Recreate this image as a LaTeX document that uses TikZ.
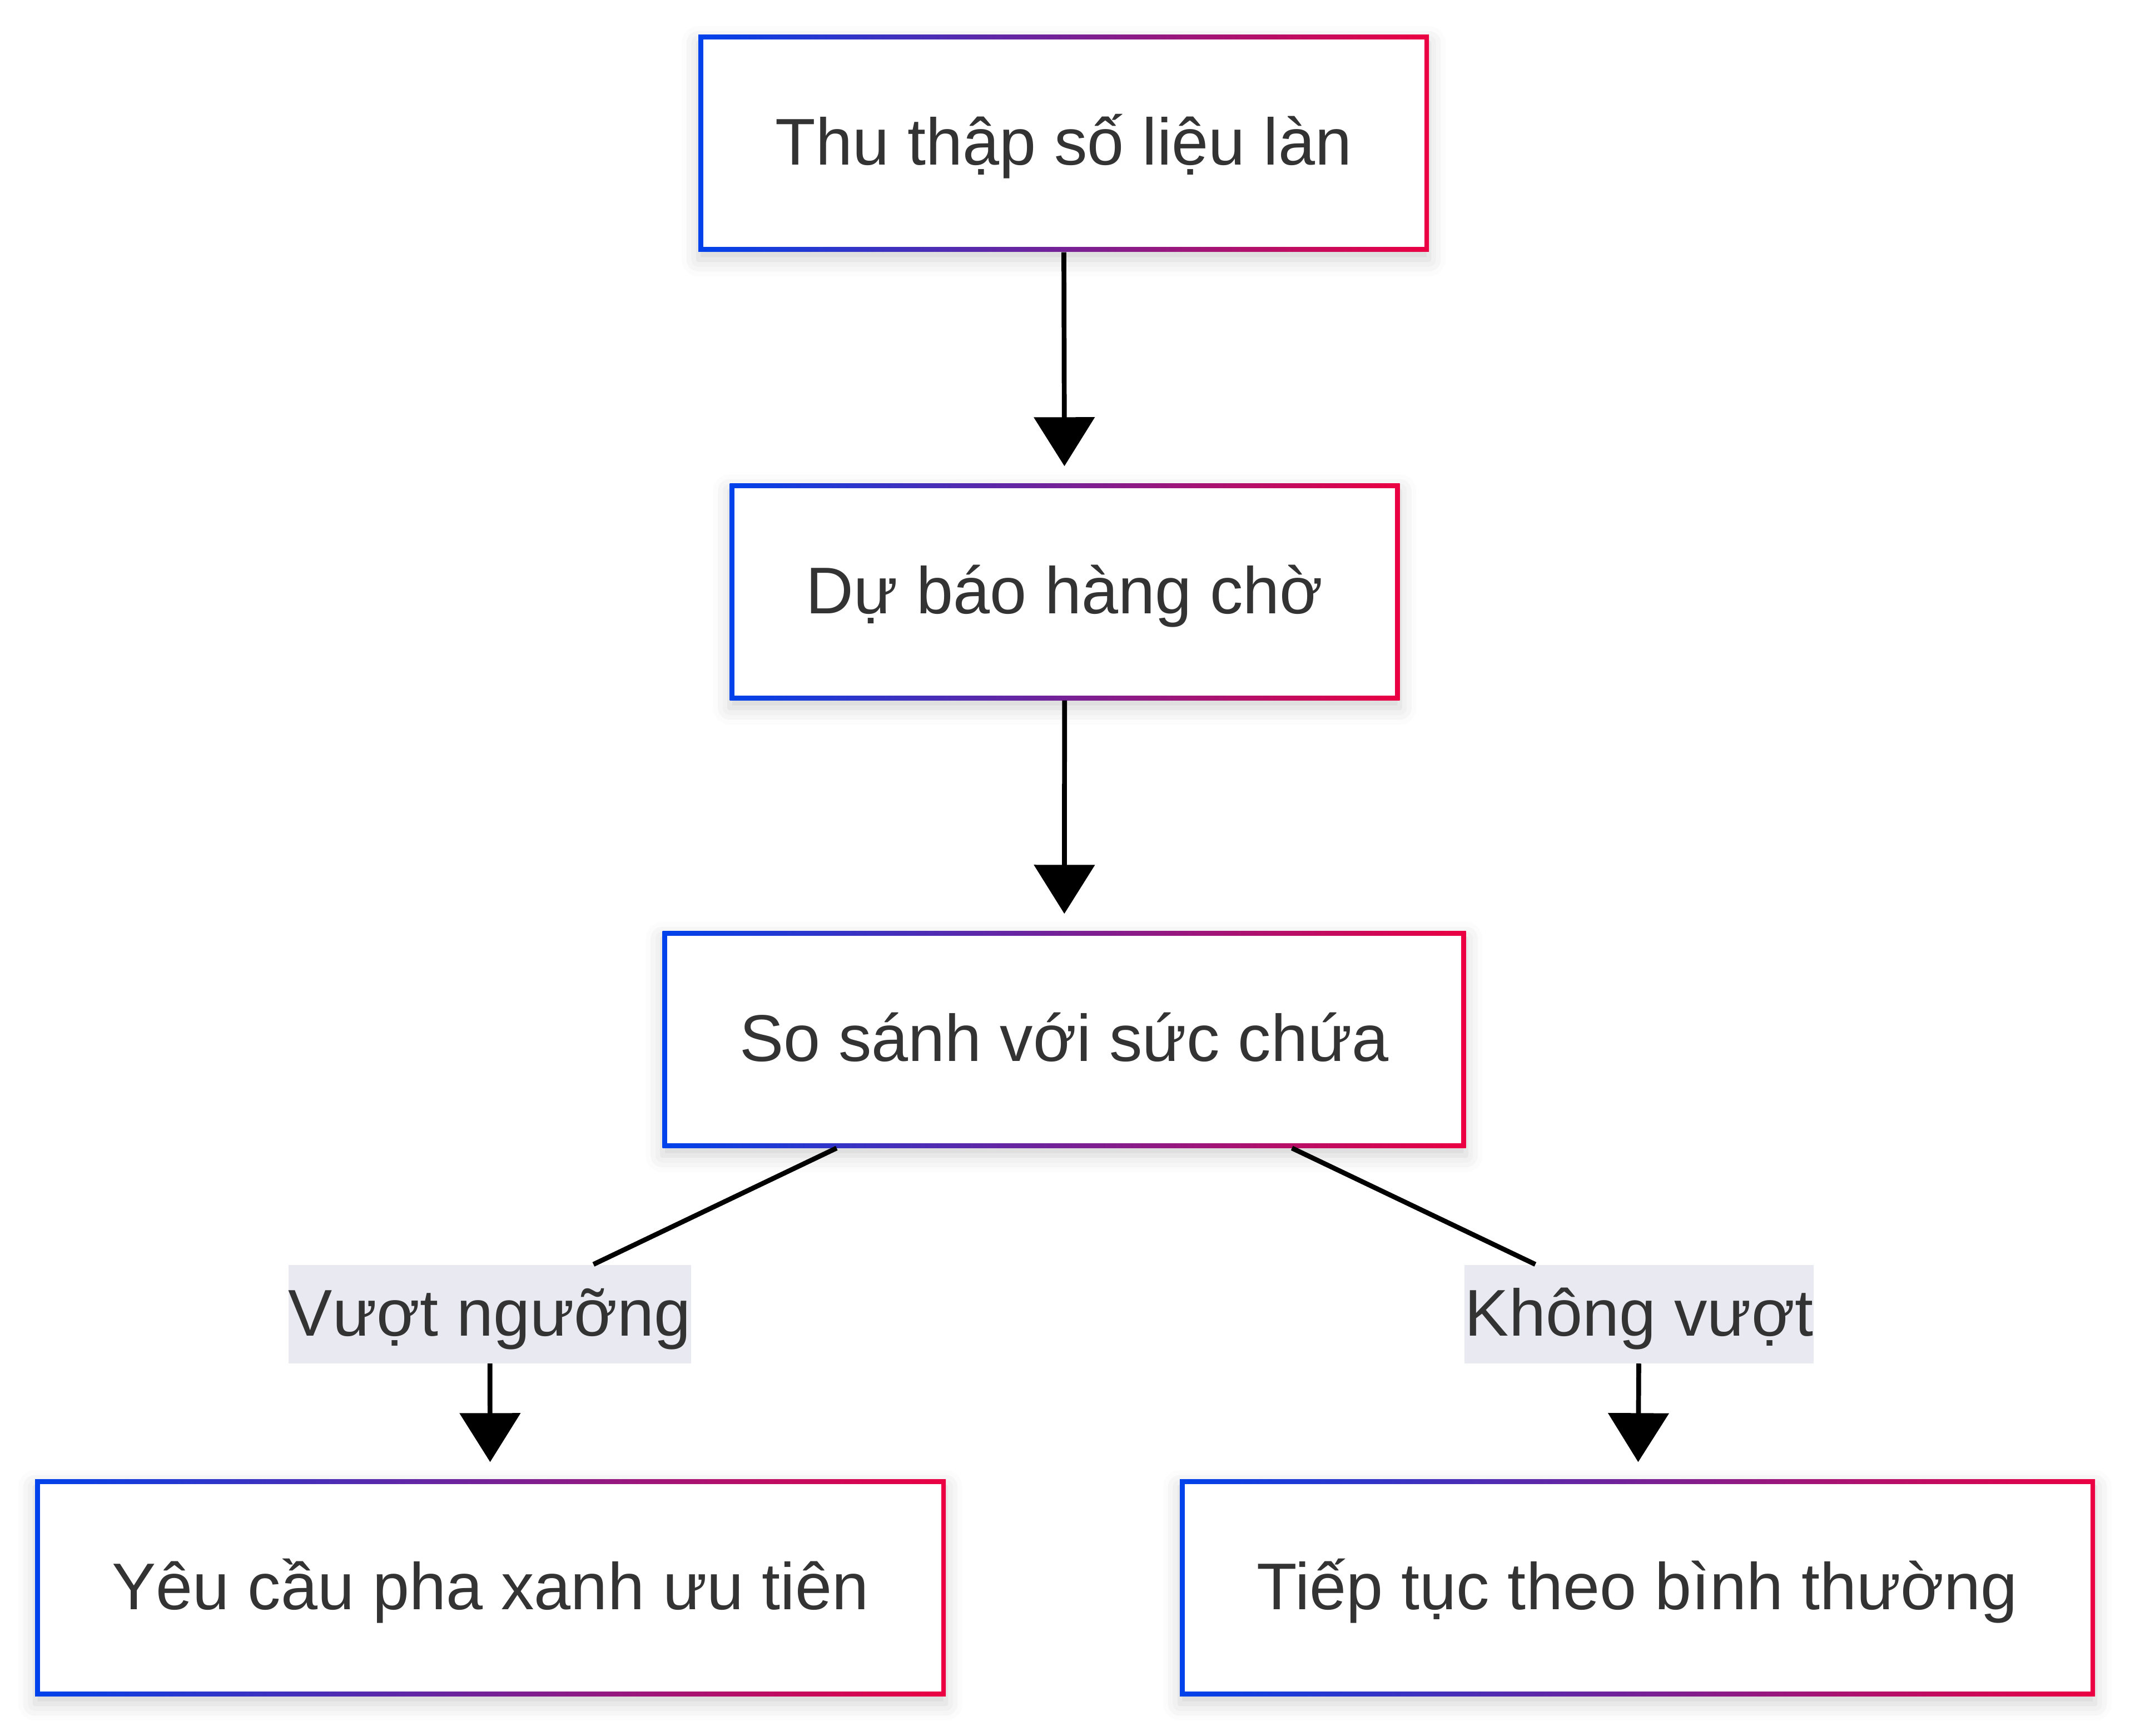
\documentclass[tikz,border=0pt]{standalone}
\usepackage{fontspec}
\setmainfont{Liberation Sans}
\usetikzlibrary{arrows.meta,shadows.blur}

\definecolor{edgeblue}{RGB}{0,66,235}
\definecolor{edgered}{RGB}{235,0,66}
\definecolor{txtgray}{RGB}{51,51,51}
\definecolor{lblbg}{RGB}{233,233,241}

\tikzset{
  box/.style={rectangle, left color=edgeblue, right color=edgered, minimum height=3.9cm,
    text=txtgray, font=\fontsize{33.8}{40}\selectfont, text height=1.05cm, text depth=0.27cm,
    blur shadow={shadow xshift=0cm, shadow yshift=-0.14cm, shadow blur radius=0.3cm, shadow opacity=18},
    path picture={\fill[white] ([shift={(0.085cm,0.085cm)}]path picture bounding box.south west)
      rectangle ([shift={(-0.085cm,-0.085cm)}]path picture bounding box.north east);}},
  lbl/.style={fill=lblbg, text=txtgray, font=\fontsize{33.8}{40}\selectfont,
    text height=1.05cm, text depth=0.27cm, inner xsep=0pt, minimum height=1.77cm},
  flow/.style={line width=0.087cm},
  arr/.style={flow, -{Triangle[length=0.88cm,width=1.08cm]}, shorten >=0.30cm},
}

\begin{document}
\begin{tikzpicture}
  \useasboundingbox (0,0) rectangle (38.4,-31.21);
  \node[box,minimum width=13.14cm] (collect) at (19.13,-2.58) {Thu thập số liệu làn};
  \node[box,minimum width=12.05cm] (predict) at (19.15,-10.64) {Dự báo hàng chờ};
  \node[box,minimum width=14.45cm] (compare) at (19.14,-18.69) {So sánh với sức chứa};
  \node[box,minimum width=16.38cm] (priority) at (8.82,-28.55) {Yêu cầu pha xanh ưu tiên};
  \node[box,minimum width=16.46cm] (normal) at (29.45,-28.55) {Tiếp tục theo bình thường};
  \node[lbl,minimum width=7.22cm] (over) at (8.81,-23.63) {Vượt ngưỡng};
  \node[lbl,minimum width=6.28cm] (under) at (29.48,-23.63) {Không vượt};
  \draw[arr] (collect) -- (predict);
  \draw[arr] (predict) -- (compare);
  \draw[flow] (compare) -- (over);
  \draw[flow] (compare) -- (under);
  \draw[arr] (over) -- (priority);
  \draw[arr] (under) -- (normal);
\end{tikzpicture}
\end{document}
